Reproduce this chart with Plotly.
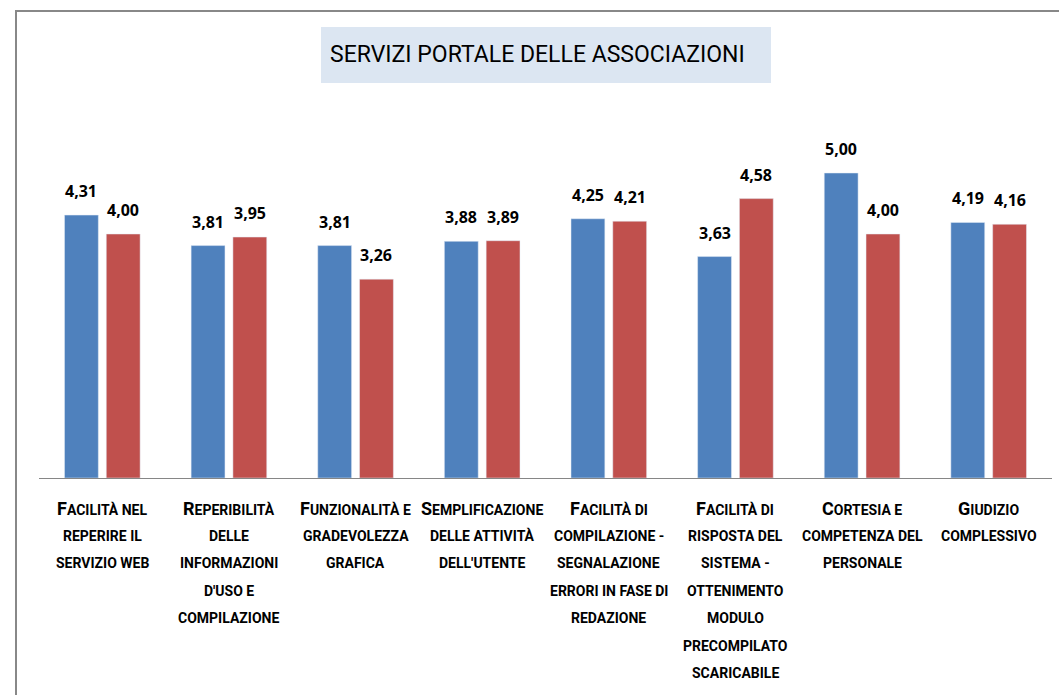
import plotly.graph_objects as go

categories = [
    "Facilità nel\nreperire il\nservizio web",
    "Reperibilità\ndelle\ninformazioni\nd'uso e\ncompilazione",
    "Funzionalità e\ngradevolezza\ngrafica",
    "Semplificazione\ndelle attività\ndell'utente",
    "Facilità di\ncompilazione -\nsegnalazione\nerrori in fase di\nredazione",
    "Facilità di\nrisposta del\nsistema -\nottenimento\nmodulo\nprecompilato\nscaricabile",
    "Cortesia e\ncompetenza del\npersonale",
    "Giudizio\ncomplessivo",
]
serie_1 = [4.31, 3.81, 3.81, 3.88, 4.25, 3.63, 5.00, 4.19]
serie_2 = [4.00, 3.95, 3.26, 3.89, 4.21, 4.58, 4.00, 4.16]
title_text = "SERVIZI PORTALE DELLE ASSOCIAZIONI"

BLUE = "#4F81BD"
RED = "#C0504D"
NARROW = "Liberation Sans Narrow, Arial Narrow, Roboto, sans-serif"

W, H = 1059, 695
ML, MR, MT, MB = 39, 7, 112, 217
PW = W - ML - MR
PH = H - MT - MB


def px_x(p):
    return (p - ML) / PW


def px_y(p):
    return (H - MB - p) / PH


fig = go.Figure()
fig.add_trace(go.Bar(x=categories, y=serie_1, marker_color=BLUE, name="Serie 1", showlegend=False))
fig.add_trace(go.Bar(x=categories, y=serie_2, marker_color=RED, name="Serie 2", showlegend=False))

annotations = []
slot_half = PW / len(categories) * (1 - 0.34) / 4
for i, cat in enumerate(categories):
    for vals, shift in ((serie_1, -slot_half), (serie_2, slot_half)):
        annotations.append(dict(
            x=cat, y=vals[i], xref="x", yref="y", xshift=shift, yshift=11,
            text=f"{vals[i]:.2f}".replace(".", ","), showarrow=False,
            yanchor="bottom", xanchor="center",
            font=dict(family="Open Sans, sans-serif", size=16, color="#000000", weight="bold"),
        ))
    lines = cat.split("\n")
    for j, line in enumerate(lines):
        up = line.upper()
        if j == 0:
            up = f'<span style="font-size:18px">{up[0]}</span>{up[1:]}'
        annotations.append(dict(
            x=cat, y=0, xref="x", yref="y", yshift=-(30 + j * 27.5),
            text=up, showarrow=False, yanchor="middle", xanchor="center",
            font=dict(family=NARROW, size=14, color="#000000", weight="bold"),
        ))

annotations.append(dict(
    x=px_x(537), y=px_y(54), xref="paper", yref="paper", text=title_text,
    showarrow=False, xanchor="center", yanchor="middle",
    font=dict(family=NARROW, size=23, color="#000000"),
))

shapes = [
    dict(type="rect", xref="paper", yref="paper", x0=px_x(321), x1=px_x(771),
         y0=px_y(83), y1=px_y(27), fillcolor="#DCE6F2", line=dict(width=0), layer="below"),
    dict(type="path", xref="paper", yref="paper",
         path=f"M {px_x(16)} {px_y(H + 5)} L {px_x(16)} {px_y(11)} L {px_x(W + 5)} {px_y(11)}",
         line=dict(color="#888888", width=2)),
]

fig.update_layout(
    width=W, height=H, autosize=False,
    margin=dict(l=ML, r=MR, t=MT, b=MB, pad=0),
    paper_bgcolor="#FFFFFF", plot_bgcolor="#FFFFFF",
    barmode="group", bargap=0.34, bargroupgap=0.19,
    xaxis=dict(showticklabels=False, showgrid=False, zeroline=False, showline=True,
               linecolor="#868686", linewidth=1, ticks=""),
    yaxis=dict(range=[0, 6], visible=False, showgrid=False, zeroline=False),
    annotations=annotations, shapes=shapes,
)

fig.write_html(
    "out.html",
    config={"displayModeBar": False},
    post_script="document.body.style.margin='0';document.body.style.overflow='hidden';",
)
